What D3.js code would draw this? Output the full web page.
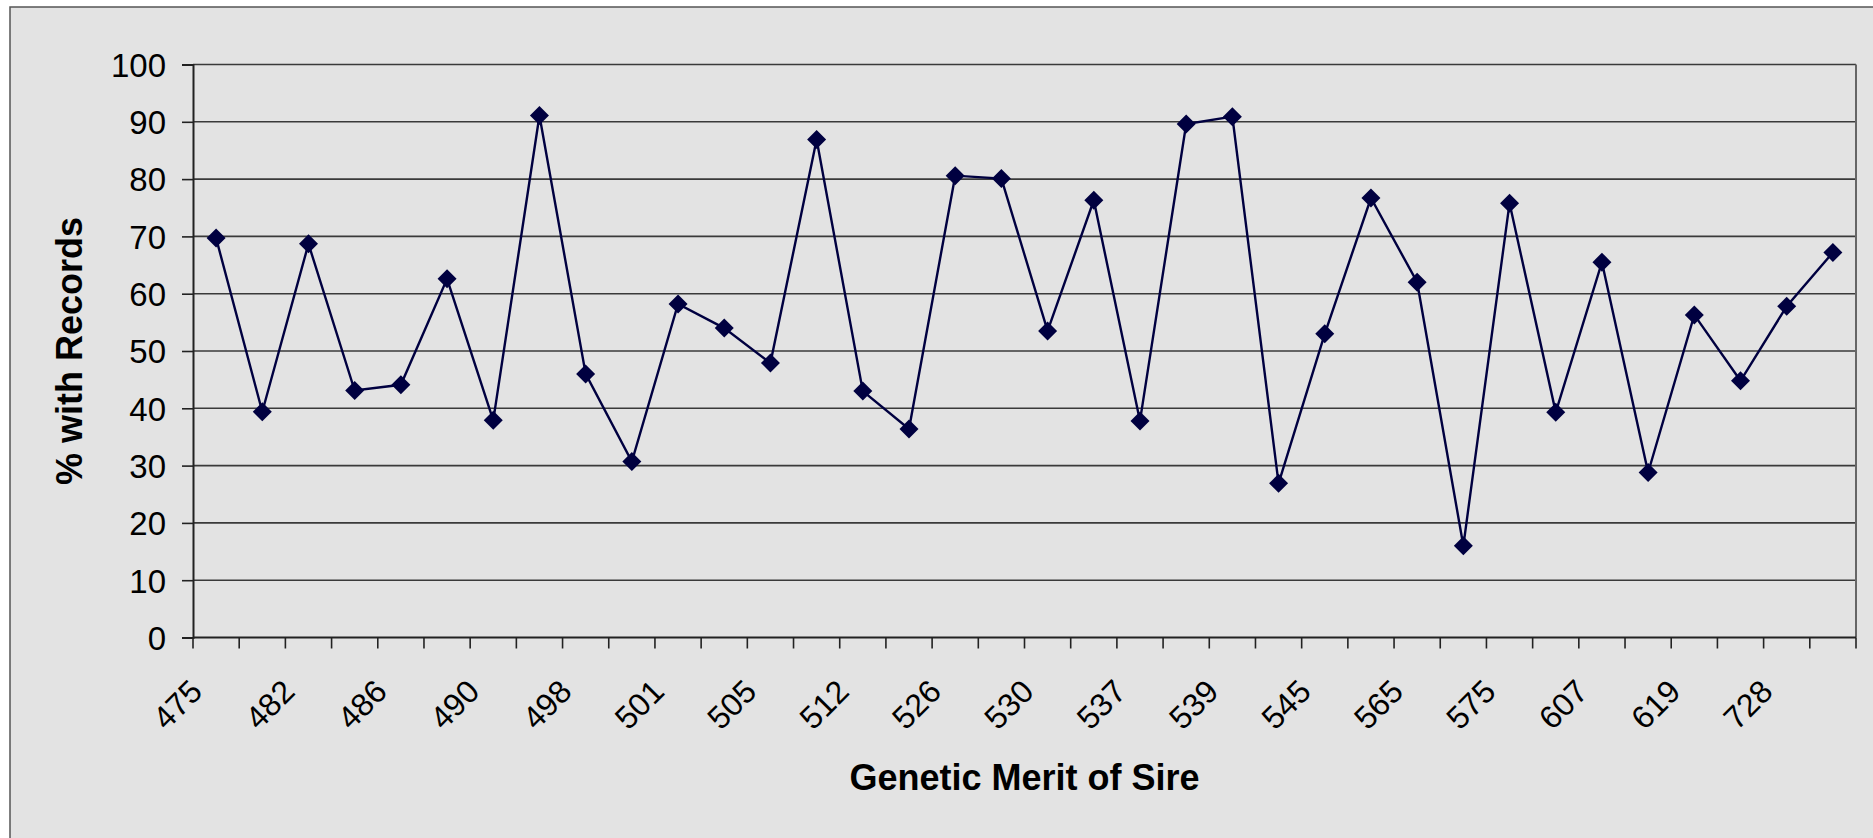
<!DOCTYPE html>
<html>
<head>
<meta charset="utf-8">
<script src="https://cdn.jsdelivr.net/npm/d3@7"></script>
<style>
  html, body { margin: 0; padding: 0; background: #fff; }
  svg { display: block; }
</style>
</head>
<body>
<div id="chart"></div>
<script>
// Sire merit categories (only every second one is labelled on the axis)
const sires = [
  '475', '479', '482', '484', '486', '488', '490', '494', '498', '500',
  '501', '503', '505', '508', '512', '520', '526', '528', '530', '535',
  '537', '538', '539', '542', '545', '555', '565', '570', '575', '590',
  '607', '612', '619', '650', '728', '750'
]
const pctWithRecords = [
  69.7, 39.4, 68.7, 43.1, 44.1, 62.6, 37.9, 91.1, 46.0, 30.7,
  58.2, 54.0, 47.9, 86.9, 43.0, 36.4, 80.6, 80.1, 53.5, 76.3,
  37.8, 89.6, 90.9, 26.9, 53.0, 76.7, 62.0, 16.0, 75.8, 39.3,
  65.5, 28.8, 56.3, 44.8, 57.8, 67.2
]
const yTicks = [0, 10, 20, 30, 40, 50, 60, 70, 80, 90, 100]

const W = 1873, H = 838
const margin = { top: 64.5, right: W - 1856, bottom: H - 637.5, left: 193 }
const innerW = W - margin.left - margin.right
const innerH = H - margin.top - margin.bottom

const bg = '#e3e3e3'
const lineColor = '#000040'
const font = 'Arial, "Liberation Sans", sans-serif'

const svg = d3.select('#chart').append('svg')
  .attr('width', W).attr('height', H)

// chart area frame (cropped at right and bottom, as in the original)
svg.append('rect')
  .attr('x', 10).attr('y', 7)
  .attr('width', W + 20).attr('height', H + 20)
  .attr('fill', bg)
  .attr('stroke', '#555').attr('stroke-width', 1.5)

const g = svg.append('g').attr('transform', `translate(${margin.left},${margin.top})`)

const x = d3.scaleBand().domain(sires).range([0, innerW]).padding(0)
const y = d3.scaleLinear().domain([0, 100]).range([innerH, 0])

// gridlines
g.append('g')
  .selectAll('line')
  .data(yTicks.filter(t => t > 0))
  .join('line')
  .attr('x1', 0).attr('x2', innerW)
  .attr('y1', d => y(d)).attr('y2', d => y(d))
  .attr('stroke', '#3a3a3a').attr('stroke-width', 1.6)

// plot border (right side)
g.append('line')
  .attr('x1', innerW).attr('x2', innerW).attr('y1', 0).attr('y2', innerH)
  .attr('stroke', '#666').attr('stroke-width', 2)

// y axis
const yAxis = g.append('g')
  .call(d3.axisLeft(y).tickValues(yTicks).tickSize(11).tickPadding(16))
yAxis.select('.domain').attr('stroke', '#222').attr('stroke-width', 2)
yAxis.selectAll('.tick line').attr('stroke', '#222').attr('stroke-width', 1.6)
yAxis.selectAll('.tick text')
  .attr('font-family', font).attr('font-size', 33).attr('fill', '#000')
  .attr('dy', '0.36em')

// x axis: ticks at category boundaries
const xAxisG = g.append('g').attr('transform', `translate(0,${innerH})`)
xAxisG.append('line')
  .attr('x1', 0).attr('x2', innerW)
  .attr('stroke', '#222').attr('stroke-width', 2)
const bounds = d3.range(sires.length + 1).map(i => i * x.step())
xAxisG.selectAll('.tk')
  .data(bounds)
  .join('line')
  .attr('class', 'tk')
  .attr('x1', d => d).attr('x2', d => d)
  .attr('y1', 0).attr('y2', 11)
  .attr('stroke', '#222').attr('stroke-width', 1.6)

xAxisG.selectAll('.lbl')
  .data(sires.filter((_, i) => i % 2 === 0))
  .join('text')
  .attr('class', 'lbl')
  .attr('transform', d => `translate(${x(d) + x.bandwidth() / 2 - 12},${56}) rotate(-45)`)
  .attr('text-anchor', 'end')
  .attr('font-family', font).attr('font-size', 32).attr('fill', '#000')
  .text(d => d)

// series line
const cx = d => x(d) + x.bandwidth() / 2
const pts = sires.map((s, i) => [cx(s), y(pctWithRecords[i])])

g.append('path')
  .datum(pts)
  .attr('d', d3.line())
  .attr('fill', 'none')
  .attr('stroke', lineColor).attr('stroke-width', 2.4)

// diamond markers
const r = 9.5
g.append('g')
  .selectAll('path')
  .data(pts)
  .join('path')
  .attr('d', ([px, py]) => `M${px},${py - r}L${px + r},${py}L${px},${py + r}L${px - r},${py}Z`)
  .attr('fill', lineColor)

// axis titles
svg.append('text')
  .attr('x', margin.left + innerW / 2).attr('y', 790)
  .attr('text-anchor', 'middle')
  .attr('font-family', font).attr('font-size', 36).attr('font-weight', 'bold')
  .text('Genetic Merit of Sire')

svg.append('text')
  .attr('transform', `translate(82,${margin.top + innerH / 2}) rotate(-90)`)
  .attr('text-anchor', 'middle')
  .attr('font-family', font).attr('font-size', 36).attr('font-weight', 'bold')
  .text('% with Records')
</script>
</body>
</html>
